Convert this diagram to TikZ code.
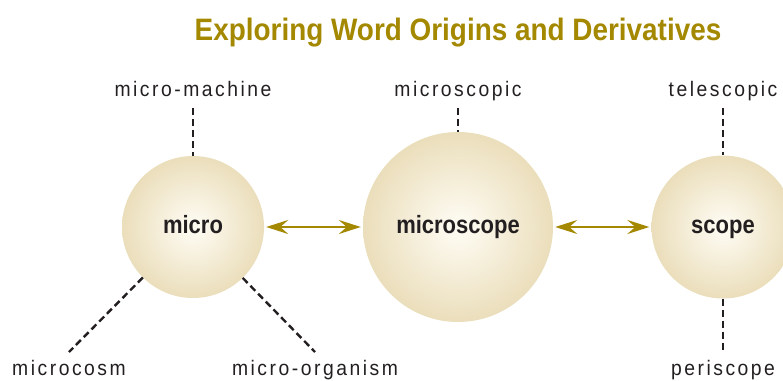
\documentclass[tikz,border=0pt]{standalone}
\usepackage{fontspec}
\setmainfont{Liberation Sans}
\newfontfamily\labelfont[FakeStretch=0.92,LetterSpace=12]{Liberation Sans}
\newfontfamily\condfont[FakeStretch=0.88]{Liberation Sans}
\newfontfamily\titlefont[FakeStretch=0.9]{Liberation Sans}
\usetikzlibrary{positioning,arrows.meta}
\definecolor{wordgold}{RGB}{163,136,0}
\definecolor{ballin}{RGB}{252,249,238}
\definecolor{ballmid}{RGB}{232,218,180}
\definecolor{ballout}{RGB}{213,192,138}
\definecolor{dashgray}{RGB}{35,31,32}
\pgfdeclareradialshading{ball}{\pgfpoint{0bp}{0bp}}{color(0bp)=(ballin); color(3bp)=(ballin); color(28bp)=(ballmid); color(50bp)=(ballout)}

\begin{document}
\begin{tikzpicture}[x=1pt,y=-1pt,
    root/.style={circle,shade,shading=ball,minimum size=#1,inner sep=0pt,
      text height=17pt,text depth=5pt,
      text=dashgray,font=\condfont\bfseries\fontsize{25}{30}\selectfont},
    word/.style={anchor=base,inner sep=0pt,outer sep=8pt,text height=15pt,text depth=4pt,
      text=dashgray,font=\labelfont\fontsize{21}{25}\selectfont},
    link/.style={dashgray,line width=2.4pt,dash pattern=on 7pt off 4pt},
    both/.style={wordgold,line width=2.6pt,shorten <=2pt,shorten >=2pt,
      {Stealth[length=22pt,width=14pt,inset=8pt]}-{Stealth[length=22pt,width=14pt,inset=8pt]}}]
    \useasboundingbox (0,0) rectangle (783,380);

    \node[anchor=base,text=wordgold,font=\titlefont\bfseries\fontsize{31}{36}\selectfont]
      (title) at (458,40) {Exploring Word Origins and Derivatives};

    % the three roots
    \node[root=142pt] (micro)  at (193,227) {micro};
    \node[root=190pt] (mscope) at (458,227) {microscope};
    \node[root=143pt] (scope)  at (723,227) {scope};

    \draw[both] (micro) -- (mscope);
    \draw[both] (mscope) -- (scope);

    % derived words
    \node[word] (mmach)   at (193,96)  {micro-machine};
    \node[word] (mscopic) at (458,96)  {microscopic};
    \node[word] (tscopic) at (723,96)  {telescopic};
    \node[word] (mcosm)   at (69,375)  {microcosm};
    \node[word] (morg)    at (315,375) {micro-organism};
    \node[word] (pscope)  at (723,375) {periscope};

    \draw[link] (mmach) -- (micro);
    \draw[link] (mscopic) -- (mscope);
    \draw[link] (tscopic) -- (scope);
    \draw[link] (micro) -- (mcosm.north);
    \draw[link] (micro) -- (morg.north);
    \draw[link] (scope) -- (pscope);
  \end{tikzpicture}
\end{document}
